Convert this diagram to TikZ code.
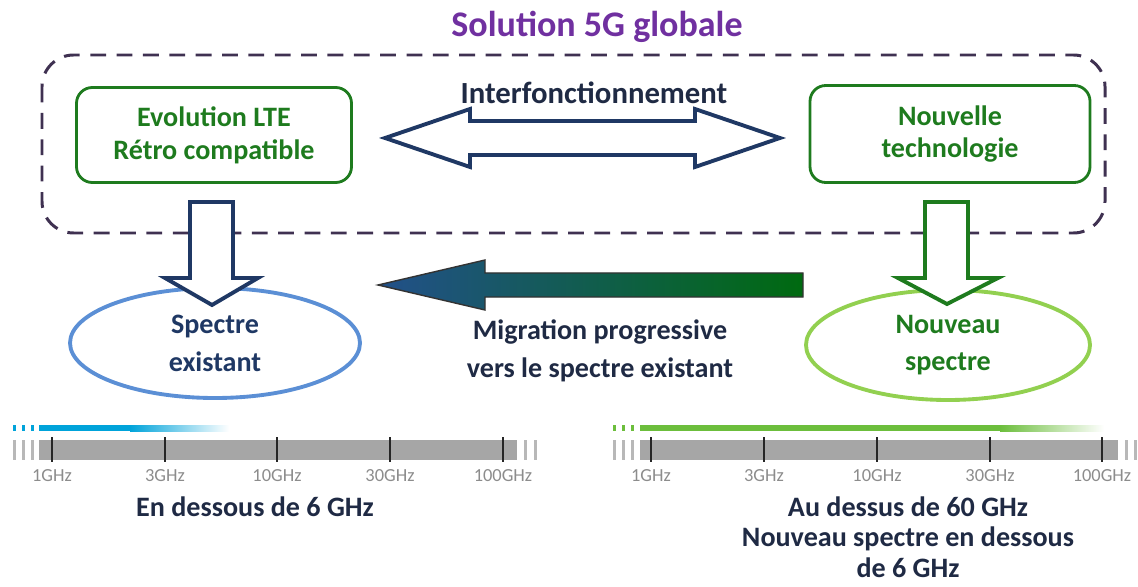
\documentclass[tikz,border=0pt]{standalone}
\usepackage{fontspec}
\setmainfont{Carlito}
\usetikzlibrary{shapes.geometric}

\definecolor{titlepurple}{HTML}{7030A0}
\definecolor{framegray}{HTML}{3F3151}
\definecolor{boxgreen}{HTML}{1E7B1E}
\definecolor{navy}{HTML}{1F3864}
\definecolor{darktext}{HTML}{1F2A44}
\definecolor{lightblue}{HTML}{5B8FD5}
\definecolor{lightgreen}{HTML}{92D050}
\definecolor{bargray}{HTML}{A6A6A6}
\definecolor{cyanbar}{HTML}{00A3DA}
\definecolor{greenbar}{HTML}{6CBE3C}
\definecolor{tickgray}{HTML}{8C8C8C}
\definecolor{migblue}{HTML}{22508A}
\definecolor{miggreen}{HTML}{006A10}

\tikzset{
	techbox/.style={draw=boxgreen, line width=1.6pt, rounded corners=9pt, text=boxgreen, align=center, font=\bfseries\fontsize{16}{18.7}\selectfont},
	spectre/.style={ellipse, line width=2.2pt, align=center, font=\bfseries\fontsize{16}{21.5}\selectfont},
	plain/.style={align=center, text=darktext, font=\bfseries\fontsize{16}{21.5}\selectfont},
	ghz/.style={text=tickgray, font=\fontsize{10.5}{11}\selectfont, inner sep=0pt},
	hollow/.style={line width=2.2pt, fill=white, line join=miter}
}

\begin{document}
\begin{tikzpicture}[x=0.02cm, y=-0.02cm]
		\useasboundingbox (0,0) rectangle (1138,587);

		\node (title) at (597,27) {\bfseries\fontsize{20.5}{23}\selectfont\color{titlepurple}Solution 5G globale};
		\draw[framegray, line width=1.7pt, dash pattern=on 9pt off 6pt, rounded corners=18pt] (42,55) rectangle (1105,233);

		\node[techbox, minimum width=275*0.02cm, minimum height=95*0.02cm] (lte) at (214,135) {Evolution LTE\\Rétro compatible};
		\node[techbox, minimum width=280*0.02cm, minimum height=97*0.02cm] (newtech) at (950,134) {Nouvelle\\technologie};
		\node[plain, font=\bfseries\fontsize{17.5}{20}\selectfont] (interop) at (594,93) {Interfonctionnement};

		\draw[hollow, draw=navy] (385,138) -- (470,109) -- (470,121) -- (695,121) -- (695,109) -- (780,138)
			-- (695,167) -- (695,155) -- (470,155) -- (470,167) -- cycle;

		\node[spectre, draw=lightblue, text=navy, minimum width=290*0.02cm, minimum height=110*0.02cm] (existant) at (215,343) {Spectre\\existant};
		\node[spectre, draw=lightgreen, text=boxgreen, minimum width=284*0.02cm, minimum height=110*0.02cm] (nouveau) at (948,345) {Nouveau\\spectre};

		\draw[hollow, draw=navy] (190,202) -- (233,202) -- (233,278) -- (258,278) -- (212,305)
			-- (165,278) -- (190,278) -- cycle;
		\draw[hollow, draw=boxgreen] (925,202) -- (968,202) -- (968,278) -- (998,278) -- (947,304)
			-- (898,278) -- (925,278) -- cycle;

		\path[draw=black!80, line width=0.8pt, left color=migblue, right color=miggreen]
			(378,285) -- (485,260) -- (485,273) -- (803,273) -- (803,297) -- (485,297) -- (485,310) -- cycle;

		\node[plain] (migration) at (600,351) {Migration progressive\\vers le spectre existant};

		% bande de gauche
		\fill[cyanbar] (39,425) rectangle (130,431);
		\shade[left color=cyanbar, right color=white] (130,425) rectangle (229,431);
		\foreach \x in {14,23,32}
			\fill[cyanbar] (\x-1.5,425) rectangle (\x+1.5,431);
		\fill[bargray] (39,440) rectangle (517,460);
		\foreach \x in {14,23,32,525,535}
			\fill[bargray!80] (\x-1.5,440) rectangle (\x+1.5,460);
		\foreach \x/\f in {52/1,165/3,277/10,390/30,503/100} {
			\draw[black!85, line width=1.5pt] (\x,437) -- (\x,462);
			\node[ghz] at (\x,476) {\f GHz};
		}
		\node[plain] (sous) at (255,507) {En dessous de 6 GHz};

		% bande de droite
		\fill[greenbar] (640,425) rectangle (1000,431);
		\shade[left color=greenbar, right color=white] (1000,425) rectangle (1104,431);
		\foreach \x in {614,623,632}
			\fill[greenbar] (\x-1.5,425) rectangle (\x+1.5,431);
		\fill[bargray] (640,440) rectangle (1118,460);
		\foreach \x in {614,623,632,1126,1135}
			\fill[bargray!80] (\x-1.5,440) rectangle (\x+1.5,460);
		\foreach \x/\f in {651/1,764/3,877/10,990/30,1102/100} {
			\draw[black!85, line width=1.5pt] (\x,437) -- (\x,462);
			\node[ghz] at (\x,476) {\f GHz};
		}
		\node[plain, font=\bfseries\fontsize{16}{17.5}\selectfont] (dessus) at (908,537) {Au dessus de 60 GHz\\Nouveau spectre en dessous\\de 6 GHz};
	\end{tikzpicture}
\end{document}
